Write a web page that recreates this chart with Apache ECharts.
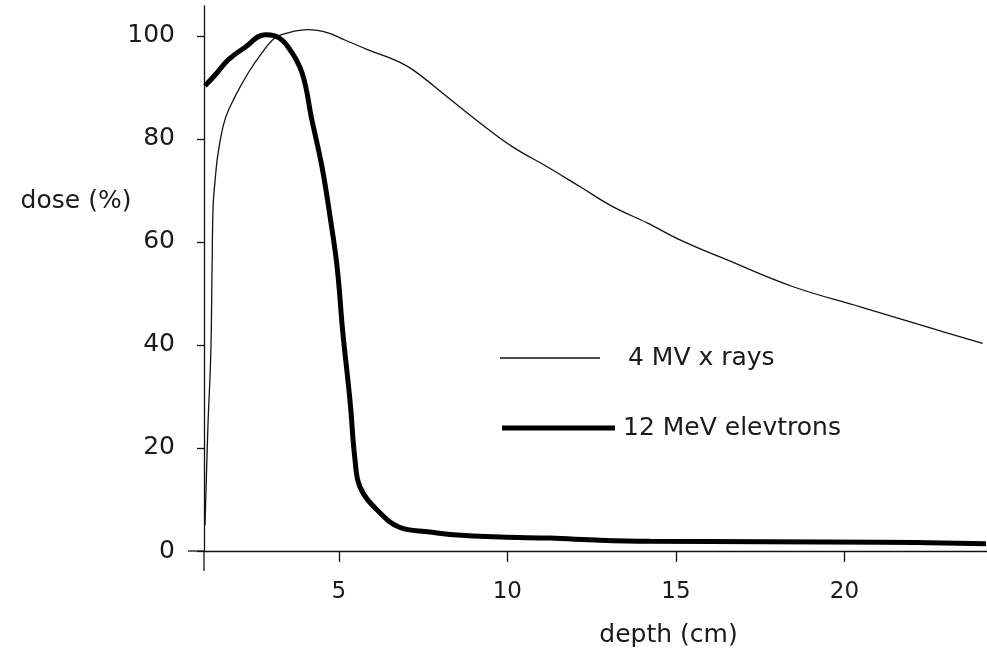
<!DOCTYPE html>
<html>
<head>
<meta charset="utf-8">
<script src="https://cdn.jsdelivr.net/npm/echarts@6/dist/echarts.min.js"></script>
<style>
html,body{margin:0;padding:0;background:#fff;}
#chart{width:987px;height:653px;}
</style>
</head>
<body>
<div id="chart"></div>
<script>
// ---- data ----
const xrayDepth = [1.03, 1.06, 1.12, 1.20, 1.24, 1.27, 1.33, 1.42, 1.62, 1.92, 2.31, 2.72, 3.10, 3.49, 4.09, 4.68, 5.18, 5.87, 6.67, 7.20, 8.21, 9.19, 10.17, 11.18, 12.16, 13.14, 14.15, 15.12, 16.52, 18.48, 20.47, 22.45, 24.10];
const xrayDose  = [5.0, 11.8, 24.9, 38.0, 55.0, 66.8, 72.0, 77.3, 83.7, 88.2, 92.8, 96.7, 99.6, 100.6, 101.2, 100.6, 99.2, 97.3, 95.3, 93.4, 88.2, 83.1, 78.4, 74.6, 70.7, 66.8, 63.7, 60.4, 56.5, 51.3, 47.4, 43.5, 40.3];

const electronDepth = [1.03, 1.33, 1.71, 2.20, 2.81, 3.10, 3.49, 3.91, 4.20, 4.50, 4.74, 4.95, 5.12, 5.33, 5.48, 5.63, 6.13, 6.80, 7.70, 8.30, 9.78, 11.27, 12.75, 14.23, 21.06, 24.20];
const electronDose  = [90.3, 92.4, 95.3, 97.7, 100.2, 100.0, 97.9, 92.8, 83.7, 74.6, 64.9, 55.1, 42.3, 29.3, 17.7, 12.4, 8.0, 4.6, 3.7, 3.2, 2.7, 2.5, 2.1, 1.9, 1.7, 1.4];

const xTicks = [5, 10, 15, 20];
const yTicks = [0, 20, 40, 60, 80, 100];

const seriesNames = ['4 MV x rays', '12 MeV elevtrons'];
const xName = 'depth (cm)';
const yName = 'dose (%)';

// ---- chart ----
const FONT = 'DejaVu Sans';
const TXT = '#1a1a1a';
const chart = echarts.init(document.getElementById('chart'), null, {renderer: 'canvas'});

const option = {
  animation: false,
  backgroundColor: '#fff',
  grid: {left: 204, right: 0, top: 6, bottom: 102, containLabel: false, outerBoundsMode: 'none'},
  xAxis: {
    type: 'value',
    min: 1.0,
    max: 24.23,
    axisLine: {show: true, onZero: false, lineStyle: {color: '#111', width: 1.3}},
    axisTick: {show: true, customValues: xTicks, length: 11, inside: false, lineStyle: {color: '#111', width: 1.3}},
    axisLabel: {show: true, customValues: xTicks, margin: 30, fontFamily: FONT, fontSize: 23, color: TXT},
    splitLine: {show: false},
    name: xName,
    nameLocation: 'middle',
    nameGap: 72,
    nameMoveOverlap: false,
    nameTextStyle: {fontFamily: FONT, fontSize: 25, color: TXT, padding: [0, 0, 0, 146]}
  },
  yAxis: {
    type: 'value',
    min: 0,
    max: 105.8,
    axisLine: {show: true, onZero: false, lineStyle: {color: '#111', width: 1.3}},
    axisTick: {show: true, customValues: yTicks, length: 7, inside: false, lineStyle: {color: '#111', width: 1.3}},
    axisLabel: {show: true, customValues: yTicks, margin: 29, fontFamily: FONT, fontSize: 25, color: TXT},
    splitLine: {show: false},
    name: yName,
    nameLocation: 'end',
    nameRotate: 0,
    nameGap: -208,
    nameMoveOverlap: false,
    nameTextStyle: {fontFamily: FONT, fontSize: 25, color: TXT, padding: [0, 256, 0, 0]}
  },
  legend: [
    {
      data: [{name: seriesNames[0], icon: 'rect'}],
      left: 500, top: 345.5,
      padding: 0,
      itemWidth: 100, itemHeight: 1.3,
      selectedMode: false,
      textStyle: {fontFamily: FONT, fontSize: 25, color: TXT, padding: [0, 0, 0, 23]}
    },
    {
      data: [{name: seriesNames[1], icon: 'rect'}],
      left: 502, top: 415.5,
      padding: 0,
      itemWidth: 113, itemHeight: 5,
      selectedMode: false,
      textStyle: {fontFamily: FONT, fontSize: 25, color: TXT, padding: [0, 0, 0, 3]}
    }
  ],
  series: [
    {
      name: seriesNames[0],
      type: 'line',
      data: xrayDepth.map((d, i) => [d, xrayDose[i]]),
      showSymbol: false,
      symbol: 'none',
      smooth: 0.4,
      lineStyle: {color: '#111', width: 1.3},
      itemStyle: {color: '#111'},
      emphasis: {disabled: true},
      z: 3
    },
    {
      name: seriesNames[1],
      type: 'line',
      data: electronDepth.map((d, i) => [d, electronDose[i]]),
      showSymbol: false,
      symbol: 'none',
      smooth: 0.4,
      lineStyle: {color: '#000', width: 5},
      itemStyle: {color: '#000'},
      emphasis: {disabled: true},
      z: 2
    }
  ]
};
chart.setOption(option);

// the two axis lines cross and run a little past each other (as in the reference)
const origin = chart.convertToPixel({gridIndex: 0}, [1.0, 0]);
chart.setOption({
  graphic: [
    {
      type: 'line',
      shape: {x1: origin[0] - 16, y1: origin[1], x2: origin[0], y2: origin[1]},
      style: {stroke: '#111', lineWidth: 1.3},
      silent: true
    },
    {
      type: 'line',
      shape: {x1: origin[0], y1: origin[1], x2: origin[0], y2: origin[1] + 20},
      style: {stroke: '#111', lineWidth: 1.3},
      silent: true
    }
  ]
});
</script>
</body>
</html>
